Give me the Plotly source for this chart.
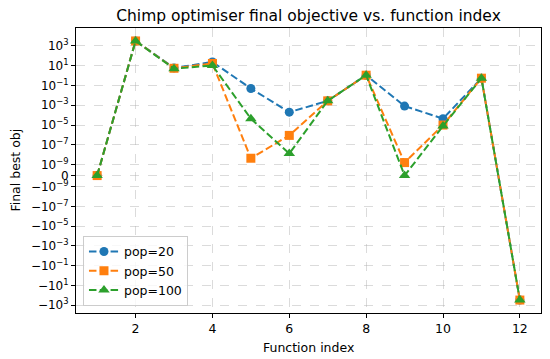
import numpy as np
import plotly.graph_objects as go

func_index = list(range(1, 13))
pop20 = [0, 3200, 6.0, 24, 5e-2, 2e-4, 2.8e-3, 1.1, 8.3e-4, 4.4e-5, 0.55, -300]
pop50 = [0, 3200, 5.5, 17, 4.4e-9, 9e-7, 2.8e-3, 1.1, 1.6e-9, 1.0e-5, 0.55, -300]
pop100 = [0, 3200, 5.0, 10.5, 4.4e-5, 1.3e-8, 2.8e-3, 1.1, 0, 8e-6, 0.55, -300]
series_names = ["pop=20", "pop=50", "pop=100"]
colors = ["#1f77b4", "#ff7f0e", "#2ca02c"]
symbols = ["circle", "square", "triangle-up"]
tick_exps = [3, 1, -1, -3, -5, -7, -9]

LINTHRESH = 1e-9
LINSCALE_ADJ = 1.0 / (1.0 - 1.0 / 10.0)


def symlog(v):
    v = np.asarray(v, dtype=float)
    a = np.abs(v)
    out = np.where(
        a <= LINTHRESH,
        v / LINTHRESH * LINSCALE_ADJ,
        np.sign(v) * (LINSCALE_ADJ + np.log10(np.maximum(a, LINTHRESH) / LINTHRESH)),
    )
    return out


fig = go.Figure()
for name, vals, c, s in zip(series_names, [pop20, pop50, pop100], colors, symbols):
    fig.add_trace(go.Scatter(
        x=func_index, y=symlog(vals), name=name, mode="lines+markers",
        line=dict(color=c, width=2, dash="7.5px,3.3px"),
        marker=dict(color=c, symbol=s, size=9 if s != "triangle-up" else 10),
        customdata=vals, hovertemplate="%{customdata}<extra>" + name + "</extra>",
    ))

tickvals = []
ticktext = []
for e in tick_exps:
    tickvals.append(float(symlog([10.0 ** e])[0]))
    ticktext.append("10<sup>%s</sup>" % (str(e).replace("-", "\u2212")))
tickvals.append(0.0)
ticktext.append("0")
for e in reversed(tick_exps):
    tickvals.append(float(symlog([-(10.0 ** e)])[0]))
    ticktext.append("\u221210<sup>%s</sup>" % (str(e).replace("-", "\u2212")))

all_t = symlog(pop20 + pop50 + pop100)
tmin, tmax = float(all_t.min()), float(all_t.max())
pad = 0.05 * (tmax - tmin)

font = "DejaVu Sans"
# the page body adds an 8px offset, so the figure is sized 8px smaller
fig.update_layout(
    width=542, height=351,
    margin=dict(l=68, r=9, t=20, b=46, autoexpand=False),
    paper_bgcolor="white", plot_bgcolor="white",
    font=dict(family=font, size=12.5, color="black"),
    title=dict(text="Chimp optimiser final objective vs. function index",
               xref="paper", x=0.5, xanchor="center", y=0.979, yanchor="middle",
               font=dict(size=15.5, family=font)),
    showlegend=True,
    legend=dict(x=0.015, y=0.025, xanchor="left", yanchor="bottom",
                bgcolor="rgba(255,255,255,0.8)", bordercolor="#cccccc", borderwidth=1,
                font=dict(size=12.5, family=font), tracegroupgap=0,
                itemwidth=30),
    annotations=[
        dict(text="Function index", xref="paper", yref="paper", x=0.5, y=-0.12,
             xanchor="center", yanchor="middle", showarrow=False,
             font=dict(size=12.5, family=font)),
        dict(text="Final best obj", xref="paper", yref="paper", x=-0.131, y=0.5,
             xanchor="center", yanchor="middle", showarrow=False, textangle=-90,
             font=dict(size=12.5, family=font)),
    ],
)
fig.update_xaxes(
    range=[0.45, 12.55], tickvals=[2, 4, 6, 8, 10, 12],
    showline=True, linecolor="black", linewidth=1, mirror=True,
    ticks="outside", ticklen=4, tickcolor="black",
    showgrid=True, gridcolor="rgba(176,176,176,0.45)", griddash="dash", gridwidth=0.8,
    zeroline=False, automargin=False,
)
fig.update_yaxes(
    range=[tmin - pad, tmax + pad], tickvals=tickvals, ticktext=ticktext,
    showline=True, linecolor="black", linewidth=1, mirror=True,
    ticks="outside", ticklen=4, tickcolor="black",
    showgrid=True, gridcolor="rgba(176,176,176,0.45)", griddash="dash", gridwidth=0.8,
    zeroline=False, tickfont=dict(size=12), automargin=False,
)
fig.write_html("out.html")
